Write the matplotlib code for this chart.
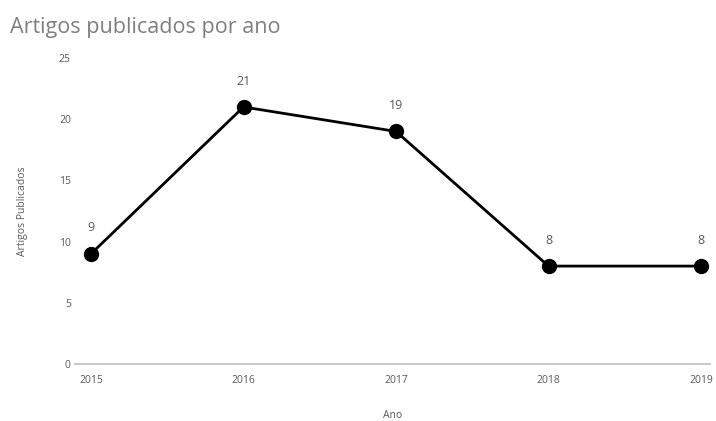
import matplotlib
matplotlib.use("Agg")
import matplotlib.pyplot as plt

years = [2015, 2016, 2017, 2018, 2019]
articles = [9, 21, 19, 8, 8]
yticks = [0, 5, 10, 15, 20, 25]

plt.rcParams['font.family'] = ['Open Sans', 'DejaVu Sans']
gray = '#595959'

fig = plt.figure(figsize=(7.16, 4.21), dpi=100)
ax = fig.add_axes([75/716, 1-364/421, (710-75)/716, (364-58)/421])
ax.plot(years, articles, color='black', lw=2, marker='o', markersize=10, zorder=3)
for x, y in zip(years, articles):
    ax.annotate(str(y), (x, y), xytext=(0, 14), textcoords='offset points',
                ha='center', va='bottom', fontsize=9, color=gray)

ax.set_xlim(2015 - 16/152.5, 2019 + 9/152.5)
ax.set_ylim(0, 25)
ax.set_xticks(years)
ax.set_xticklabels([str(y) for y in years])
ax.set_yticks(yticks)
for s in ['top', 'right', 'left']:
    ax.spines[s].set_visible(False)
ax.spines['bottom'].set_color('#bfbfbf')
ax.spines['bottom'].set_linewidth(1.2)
ax.tick_params(axis='both', length=0, labelsize=7.5, colors=gray)
ax.tick_params(axis='y', pad=3)
ax.tick_params(axis='x', pad=8)
ax.set_xlabel('Ano', fontsize=7.5, color=gray, labelpad=17)
ax.set_ylabel('Artigos Publicados', fontsize=7.5, color=gray, labelpad=22)

fig.text(10/716, 1-28/421, 'Artigos publicados por ano', fontsize=15.5, color='#7f7f7f',
         ha='left', va='center')

fig.savefig('out.png', dpi=100)
